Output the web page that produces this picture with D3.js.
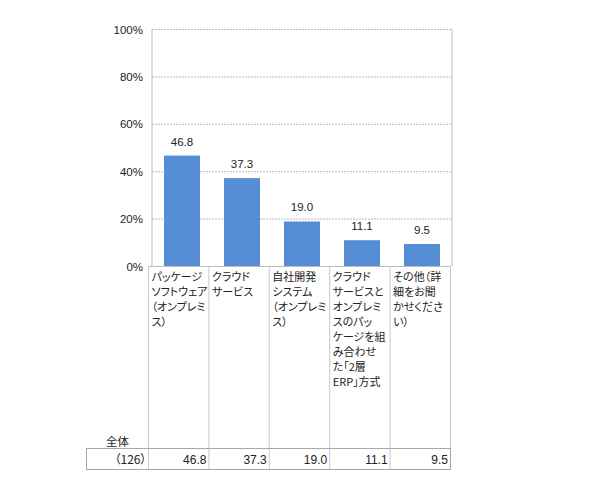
<!DOCTYPE html>
<html>
<head>
<meta charset="utf-8">
<script src="https://cdn.jsdelivr.net/npm/d3@7"></script>
<style>
  body { margin: 0; background: #fff; }
  text { font-family: "Liberation Sans", "Noto Sans CJK JP", sans-serif; fill: #222; }
  .cjk { font-family: "Noto Sans CJK JP", sans-serif; font-feature-settings: "palt"; }
</style>
</head>
<body>
<svg id="chart"></svg>
<script>
// Data
const categories = [
  "パッケージ\nソフトウェア\n（オンプレミ\nス）",
  "クラウド\nサービス",
  "自社開発\nシステム\n（オンプレミ\nス）",
  "クラウド\nサービスと\nオンプレミ\nスのパッ\nケージを組\nみ合わせ\nた「2層\nERP」方式",
  "その他（詳\n細をお聞\nかせくださ\nい）"
];
const values = [46.8, 37.3, 19.0, 11.1, 9.5];
const yTicks = [0, 20, 40, 60, 80, 100];
const rowLabel = "全体";
const rowCount = "（126）";

const width = 590;
const height = 486;

const svg = d3.select("#chart")
  .attr("width", width)
  .attr("height", height);

// Plot area
const plotLeft = 152, plotRight = 452, plotTop = 29.5, plotBottom = 266.5;

const x = d3.scaleBand()
  .domain(categories)
  .range([plotLeft, plotRight])
  .paddingInner(0.4)
  .paddingOuter(0.2);

const y = d3.scaleLinear()
  .domain([0, 100])
  .range([plotBottom, plotTop]);

// Gridlines (dotted)
svg.append("g")
  .selectAll("line")
  .data(yTicks.filter(d => d > 0))
  .enter().append("line")
  .attr("x1", plotLeft)
  .attr("x2", plotRight)
  .attr("y1", d => y(d))
  .attr("y2", d => y(d))
  .style("stroke", "#b8b8b8")
  .style("stroke-width", 1)
  .style("stroke-dasharray", "2,1");

// Y axis labels
const yAxis = d3.axisLeft(y)
  .tickValues(yTicks)
  .tickFormat(d => d + "%")
  .tickSize(0)
  .tickPadding(9);

const ya = svg.append("g")
  .attr("transform", `translate(${plotLeft},0)`)
  .call(yAxis);
ya.select(".domain").remove();
ya.selectAll("text")
  .style("font-size", "11.5px")
  .style("font-family", "'Liberation Sans', sans-serif")
  .style("fill", "#222");

// Frame lines
svg.append("line")
  .attr("x1", plotLeft).attr("x2", plotLeft)
  .attr("y1", plotTop).attr("y2", plotBottom)
  .style("stroke", "#bdbdbd");
svg.append("line")
  .attr("x1", plotRight).attr("x2", plotRight)
  .attr("y1", plotTop - 1).attr("y2", plotBottom)
  .style("stroke", "#bdbdbd");

// Bars
svg.append("g")
  .selectAll("rect")
  .data(values)
  .enter().append("rect")
  .attr("x", (d, i) => x(categories[i]))
  .attr("y", d => y(d))
  .attr("width", x.bandwidth())
  .attr("height", d => y(0) - y(d))
  .style("fill", "#558ed5");

// Bar value labels
svg.append("g")
  .selectAll("text")
  .data(values)
  .enter().append("text")
  .attr("x", (d, i) => x(categories[i]) + x.bandwidth() / 2)
  .attr("y", d => y(d) - 10)
  .attr("text-anchor", "middle")
  .style("font-size", "11.5px")
  .text(d => d.toFixed(1));

// Table below the chart
const tLeft = 148.5, tRight = 450.5;
const col = d3.scaleBand()
  .domain(categories)
  .range([tLeft, tRight]);
const labelTop = 266.5, rowTop = 448.5, rowBottom = 469.5, rowLeft = 86.5;

// horizontal line under plot
svg.append("line")
  .attr("x1", tLeft).attr("x2", tRight)
  .attr("y1", labelTop).attr("y2", labelTop)
  .style("stroke", "#bdbdbd");

// column dividers
svg.append("g")
  .selectAll("line")
  .data(d3.range(categories.length + 1))
  .enter().append("line")
  .attr("x1", i => tLeft + i * col.step())
  .attr("x2", i => tLeft + i * col.step())
  .attr("y1", labelTop)
  .attr("y2", rowBottom)
  .style("stroke", "#c8c8c8");

// data row box
svg.append("rect")
  .attr("x", rowLeft)
  .attr("y", rowTop)
  .attr("width", tRight - rowLeft)
  .attr("height", rowBottom - rowTop)
  .style("fill", "none")
  .style("stroke", "#a8a8a8");

// category labels
const catText = svg.append("g")
  .selectAll("text")
  .data(categories)
  .enter().append("text")
  .attr("class", "cjk")
  .attr("x", d => col(d) + 3)
  .attr("y", 281)
  .style("font-size", "11px");

catText.selectAll("tspan")
  .data(d => d.split("\n"))
  .enter().append("tspan")
  .attr("x", function() { return d3.select(this.parentNode).attr("x"); })
  .attr("dy", (d, i) => i === 0 ? 0 : 15)
  .text(d => d);

// row header
svg.append("text")
  .attr("class", "cjk")
  .attr("x", 106)
  .attr("y", 445.5)
  .style("font-size", "11.5px")
  .text(rowLabel);

svg.append("text")
  .attr("class", "cjk")
  .attr("x", tLeft - 2)
  .attr("y", 463.5)
  .attr("text-anchor", "end")
  .style("font-size", "12px")
  .text(rowCount);

// row values
svg.append("g")
  .selectAll("text")
  .data(values)
  .enter().append("text")
  .attr("x", (d, i) => col(categories[i]) + col.step() - 2.5)
  .attr("y", 463.5)
  .attr("text-anchor", "end")
  .style("font-size", "12px")
  .text(d => d.toFixed(1));
</script>
</body>
</html>
